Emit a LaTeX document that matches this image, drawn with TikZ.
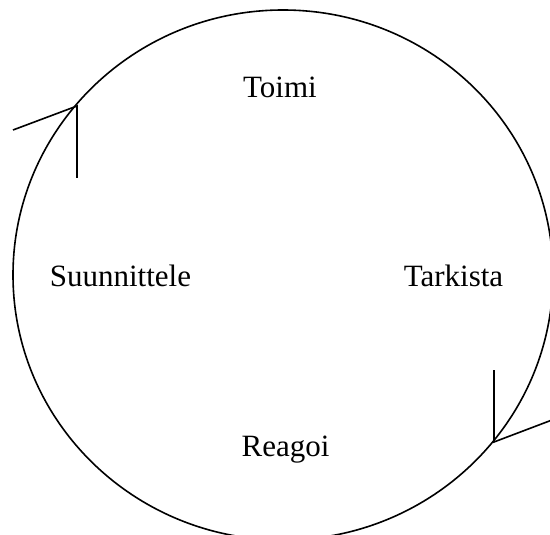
\documentclass[tikz,border=0pt]{standalone}
\usepackage{fontspec}
\setmainfont{Liberation Serif}
\usetikzlibrary{calc}

\begin{document}
\begin{tikzpicture}[
x=1pt, y=-1pt,
label/.style={anchor=base, inner sep=0pt, font=\fontsize{31}{36}\selectfont},
cycle/.style={line width=1.6pt, draw=black},
tick/.style={line width=1.6pt, draw=black, line cap=butt}
]
\useasboundingbox (0,0) rectangle (550,535);
\clip (0,0) rectangle (550,535);

\draw[cycle] (283,275) ellipse [x radius=270, y radius=265];

\node[label] (toimi) at (280,98) {Toimi};
\node[label] (suunnittele) at (120.5,286) {Suunnittele};
\node[label] (tarkista) at (453.5,286) {Tarkista};
\node[label] (reagoi) at (285.5,456) {Reagoi};

% open arrow heads on the cycle
\coordinate (tipA) at (77,106);
\coordinate (tipB) at (494,442);
\draw[tick] (13,130) -- (tipA) -- (77,178);
\draw[tick] (494,370) -- (tipB) -- (552,420);
\end{tikzpicture}
\end{document}
